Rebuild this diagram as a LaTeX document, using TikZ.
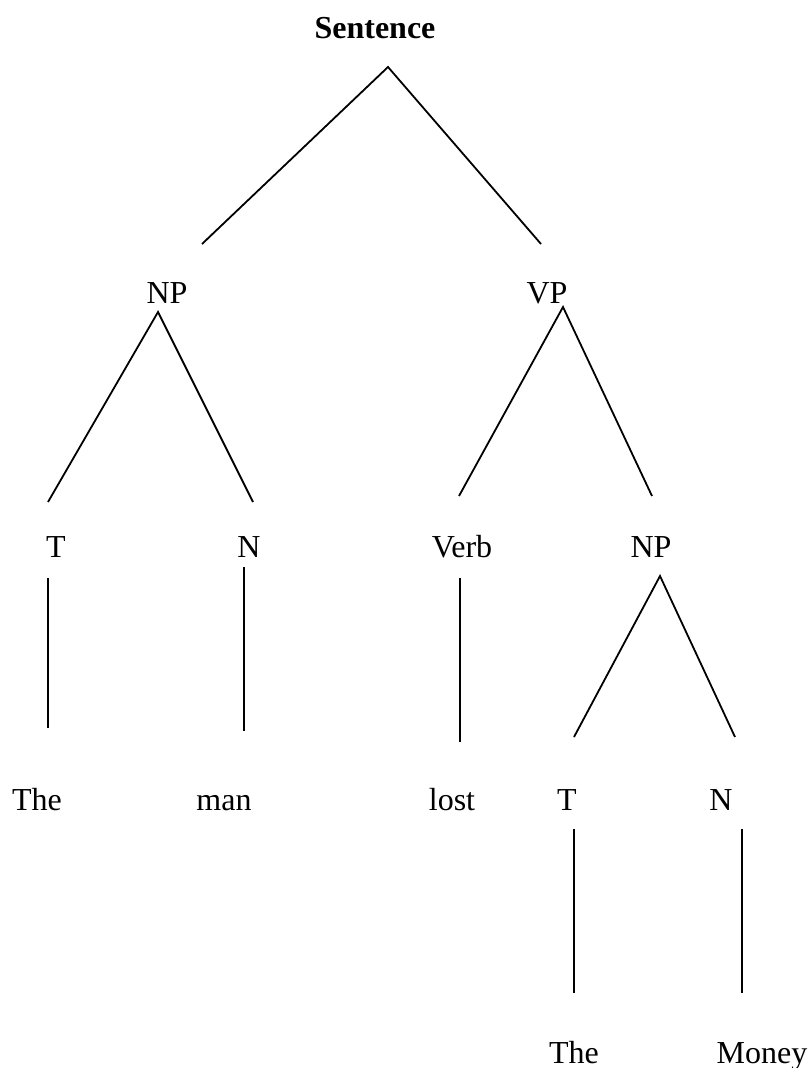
\documentclass[tikz,border=0pt]{standalone}
\usepackage{fontspec}
\setmainfont{Liberation Serif}

\begin{document}
\begin{tikzpicture}[x=1pt,y=-1pt,
  word/.style={anchor=base,inner sep=0pt,font=\fontsize{32}{38}\selectfont},
  branchline/.style={line width=1.8pt}]
  \useasboundingbox (0,0) rectangle (810,1068);
  \node[word,font=\fontsize{32}{38}\selectfont\bfseries] (sent) at (375,38) {Sentence};
  \node[word] (np) at (167,303) {NP};
  \node[word] (vp) at (547,303) {VP};
  \node[word] (t) at (56,557) {T};
  \node[word] (n) at (249,557) {N};
  \node[word] (verb) at (462,557) {Verb};
  \node[word] (np2) at (651,557) {NP};
  \node[word] (the) at (37,810) {The};
  \node[word] (man) at (224,810) {man};
  \node[word] (lost) at (452,810) {lost};
  \node[word] (t2) at (567,810) {T};
  \node[word] (n2) at (721,810) {N};
  \node[word] (the2) at (574,1063) {The};
  \node[word] (money) at (762,1063) {Money};

  \coordinate (sent-dn) at (388,67);
  \coordinate (np-up) at (202,244);
  \coordinate (vp-up) at (541,244);
  \coordinate (np-dn) at (158,312);
  \coordinate (vp-dn) at (563,307);
  \coordinate (t-up) at (48,502);
  \coordinate (n-up) at (253,502);
  \coordinate (verb-up) at (459,496);
  \coordinate (np2-up) at (652,496);
  \coordinate (t-dn) at (48,578);
  \coordinate (n-dn) at (244,567);
  \coordinate (verb-dn) at (460,578);
  \coordinate (np2-dn) at (660,576);
  \coordinate (the-up) at (48,728);
  \coordinate (man-up) at (244,731);
  \coordinate (lost-up) at (460,742);
  \coordinate (t2-up) at (574,737);
  \coordinate (n2-up) at (735,737);
  \coordinate (t2-dn) at (574,829);
  \coordinate (n2-dn) at (742,829);
  \coordinate (the2-up) at (574,993);
  \coordinate (money-up) at (742,993);

  \draw[branchline] (np-up) -- (sent-dn) -- (vp-up);
  \draw[branchline] (t-up) -- (np-dn) -- (n-up);
  \draw[branchline] (verb-up) -- (vp-dn) -- (np2-up);
  \draw[branchline] (t-dn) -- (the-up);
  \draw[branchline] (n-dn) -- (man-up);
  \draw[branchline] (verb-dn) -- (lost-up);
  \draw[branchline] (t2-up) -- (np2-dn) -- (n2-up);
  \draw[branchline] (t2-dn) -- (the2-up);
  \draw[branchline] (n2-dn) -- (money-up);
\end{tikzpicture}
\end{document}
